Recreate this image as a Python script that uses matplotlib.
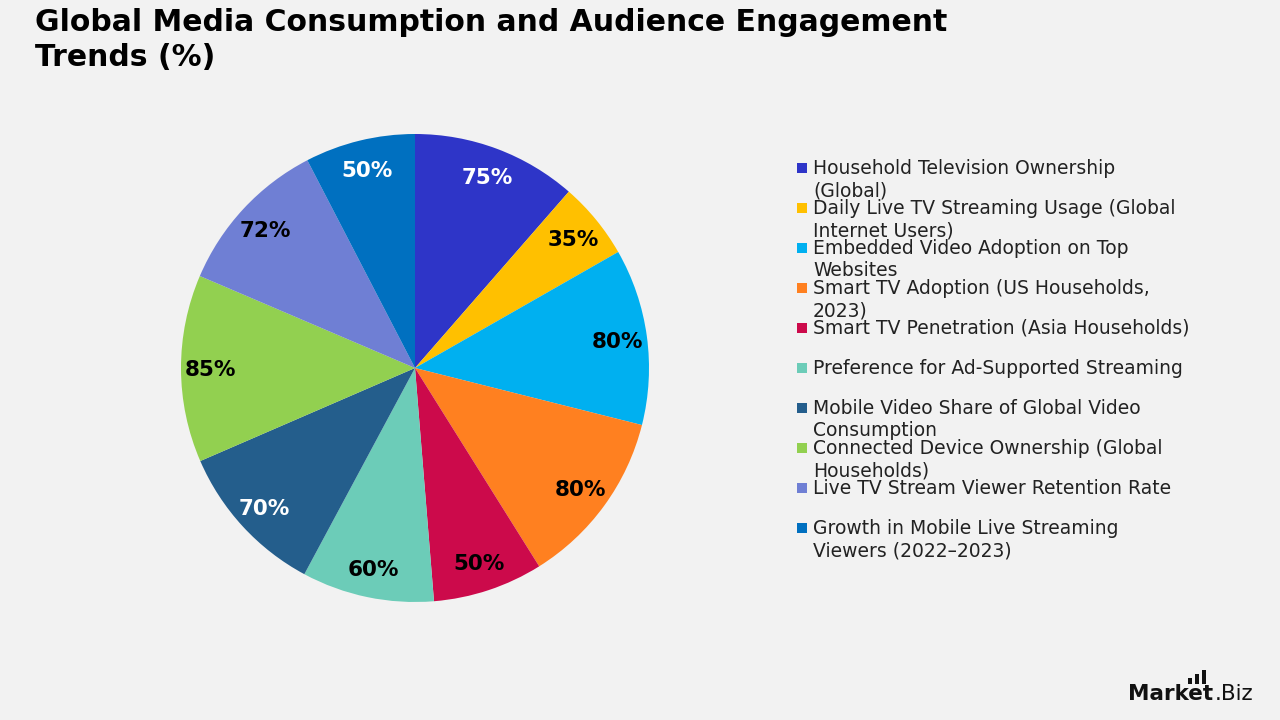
import numpy as np
import matplotlib.pyplot as plt
from matplotlib.patches import Rectangle

categories = [
    "Household Television Ownership\n(Global)",
    "Daily Live TV Streaming Usage (Global\nInternet Users)",
    "Embedded Video Adoption on Top\nWebsites",
    "Smart TV Adoption (US Households,\n2023)",
    "Smart TV Penetration (Asia Households)",
    "Preference for Ad-Supported Streaming",
    "Mobile Video Share of Global Video\nConsumption",
    "Connected Device Ownership (Global\nHouseholds)",
    "Live TV Stream Viewer Retention Rate",
    "Growth in Mobile Live Streaming\nViewers (2022\u20132023)",
]
values = [75, 35, 80, 80, 50, 60, 70, 85, 72, 50]
colors = ["#2E35C8", "#FFC000", "#00B0F0", "#FF8020", "#CC0A4B",
          "#6CCCB8", "#245E8C", "#92D050", "#6F7FD4", "#0070C0"]
label_colors = ["white", "black", "black", "black", "black",
                "black", "white", "black", "black", "white"]

W, H = 1280, 720
bg = "#F2F2F2"
fig = plt.figure(figsize=(12.8, 7.2), dpi=100, facecolor=bg)

# pie centred at (415, 368) px, radius 234 px
cx, cy, r = 415, 368, 234
ax = fig.add_axes([(cx - r) / W, (H - cy - r) / H, 2 * r / W, 2 * r / H])
ax.set_facecolor(bg)
wedges, texts = ax.pie(values, colors=colors, startangle=90, counterclock=False,
                       radius=1.0, wedgeprops=dict(linewidth=0))

# percentage labels
total = sum(values)
theta = 90.0
for v, lc in zip(values, label_colors):
    span = v / total * 360
    mid = np.deg2rad(theta - span / 2)
    theta -= span
    ax.text(0.875 * np.cos(mid), 0.875 * np.sin(mid), f"{v}%", ha="center",
            va="center_baseline", color=lc, fontsize=15.5, fontweight="bold")
ax.set_xlim(-1, 1)
ax.set_ylim(-1, 1)
ax.set_aspect("equal")
ax.axis("off")

# title
fig.text(35 / W, 1 - 8 / H, "Global Media Consumption and Audience Engagement\nTrends (%)",
         ha="left", va="top", fontsize=21.5, fontweight="bold", color="black", linespacing=1.28)

# legend, drawn by hand so rows are evenly spaced
for i, (lab, col) in enumerate(zip(categories, colors)):
    y = 168 + 40 * i
    fig.patches.append(Rectangle((797 / W, 1 - (y + 5) / H), 10 / W, 10 / H,
                                 transform=fig.transFigure, facecolor=col, edgecolor="none"))
    fig.text(813 / W, 1 - (y - 9) / H, lab, ha="left", va="top", fontsize=13.5,
             color="#222222", linespacing=1.22)

# logo
fig.text(1128 / W, 1 - 700 / H, "Market", ha="left", va="baseline", fontsize=15.5,
         fontweight="heavy", color="#111111")
fig.text(1215 / W, 1 - 700 / H, ".Biz", ha="left", va="baseline", fontsize=15.5,
         color="#111111")
for bx, bh in zip([1188, 1195, 1202], [6, 10, 14]):
    fig.patches.append(Rectangle((bx / W, 1 - 684 / H), 4 / W, bh / H,
                                 transform=fig.transFigure, facecolor="#111111", edgecolor="none"))

fig.savefig("out.png", dpi=100, facecolor=bg)
